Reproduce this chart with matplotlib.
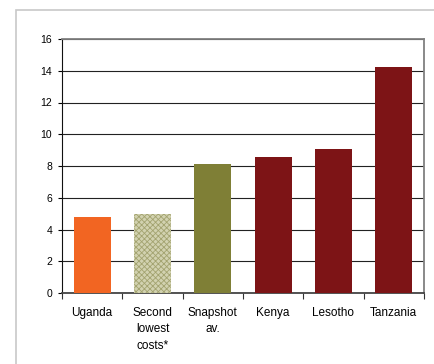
import matplotlib.pyplot as plt
from matplotlib.patches import Rectangle

categories = ['Uganda', 'Second\nlowest\ncosts*', 'Snapshot\nav.', 'Kenya', 'Lesotho', 'Tanzania']
values = [4.78, 4.97, 8.12, 8.55, 9.1, 14.25]
bar_colors = ['#f26522', '#d2d2b0', '#7f7f36', '#7d1416', '#7d1416', '#7d1416']
y_ticks = [0, 2, 4, 6, 8, 10, 12, 14, 16]

plt.rcParams['font.family'] = ['Liberation Sans', 'DejaVu Sans']
plt.rcParams['hatch.linewidth'] = 0.6

fig = plt.figure(figsize=(4.35, 3.64), dpi=100)
W, H = 435, 364

# outer chart frame (cut off at right and bottom)
fig.patches.append(Rectangle((16 / W, -0.1), 1.2, (H - 10) / H + 0.1,
                             transform=fig.transFigure, fill=False,
                             edgecolor='#c8c8c8', lw=1.2))

ax = fig.add_axes([62 / W, 1 - 293 / H, 362 / W, 254 / H])

x = range(len(categories))
bars = ax.bar(x, values, width=0.61, color=bar_colors, zorder=3)
bars[1].set_hatch('xxxxxx')
bars[1].set_edgecolor('#a3a370')
bars[1].set_linewidth(0)

ax.set_xlim(-0.5, len(categories) - 0.5)
ax.set_ylim(0, 16)
ax.set_yticks(y_ticks)
ax.set_yticklabels([str(t) for t in y_ticks], fontsize=7.5)
ax.yaxis.grid(True, color='#222222', lw=0.8, zorder=1)

ax.set_xticks([i - 0.5 for i in range(len(categories) + 1)])
ax.set_xticklabels([])
ax.set_xticks(list(x), minor=True)
ax.set_xticklabels(categories, minor=True, fontsize=8.5, linespacing=1.5, va='top')
ax.tick_params(axis='x', which='minor', length=0, pad=10)
ax.tick_params(axis='x', which='major', length=4, direction='out', color='#333333')
ax.tick_params(axis='y', length=3, direction='out', pad=4)

ax.spines['left'].set_color('#111111')
ax.spines['bottom'].set_color('#444444')
ax.spines['bottom'].set_linewidth(1.3)
ax.spines['top'].set_color('#808080')
ax.spines['top'].set_linewidth(1.3)
ax.spines['right'].set_color('#808080')
ax.spines['right'].set_linewidth(1.3)

fig.savefig('out.png', dpi=100)
